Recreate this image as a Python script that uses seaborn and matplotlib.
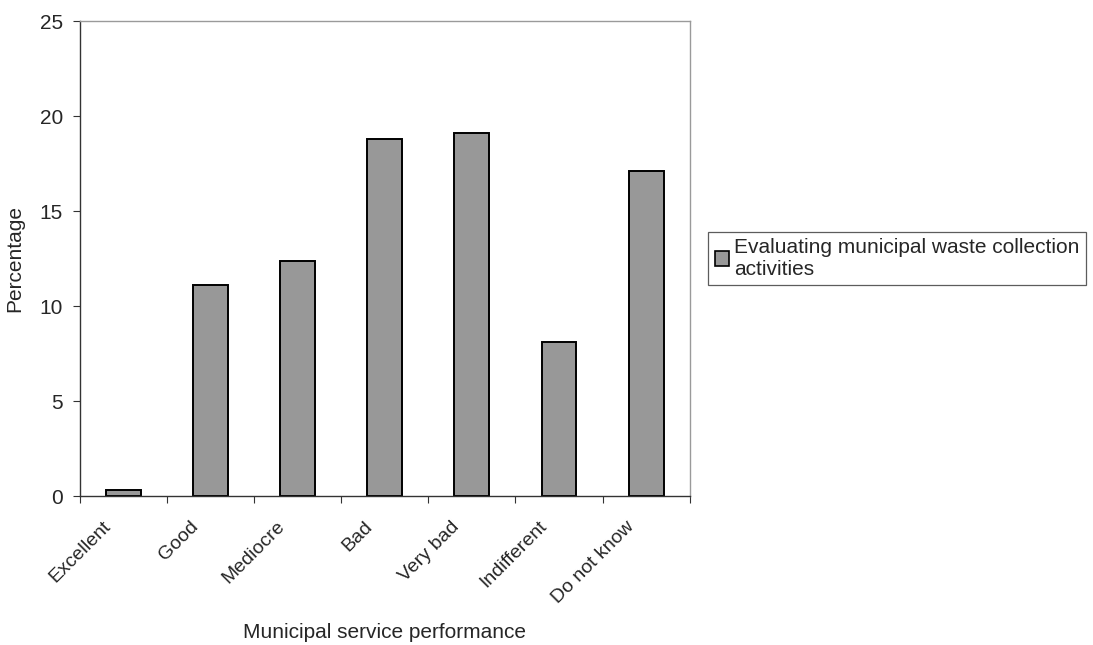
import matplotlib
matplotlib.use("Agg")
import matplotlib.pyplot as plt
import matplotlib.transforms as mtransforms
import seaborn as sns
import pandas as pd
from matplotlib.ticker import FixedLocator

categories = ["Excellent", "Good", "Mediocre", "Bad", "Very bad", "Indifferent", "Do not know"]
percentages = [0.3, 11.1, 12.4, 18.8, 19.1, 8.1, 17.1]
series_name = "Evaluating municipal waste collection\nactivities"
y_ticks = [0, 5, 10, 15, 20, 25]

FS = 15

sns.set_theme(style="white")
plt.rcParams["font.family"] = ["Liberation Sans", "DejaVu Sans"]
plt.rcParams["font.size"] = FS

df = pd.DataFrame({"category": categories, "value": percentages,
                   "series": [series_name] * len(categories)})

fig = plt.figure(figsize=(10.93, 6.45), dpi=100)
ax = fig.add_axes([0.073, 0.231, 0.558, 0.736])

sns.barplot(data=df, x="category", y="value", hue="series", order=categories,
            palette=["#989898"], edgecolor="black", linewidth=1.4,
            width=0.4, dodge=False, legend=False, ax=ax)

ax.set_xlim(-0.5, len(categories) - 0.5)
ax.set_ylim(0, 25)
ax.set_yticks(y_ticks)
ax.set_yticklabels([str(t) for t in y_ticks], fontsize=FS)

# category ticks sit between the bars, labels stay at bar centres
ax.xaxis.set_minor_locator(FixedLocator([i - 0.5 for i in range(len(categories) + 1)]))
ax.tick_params(axis="x", which="major", length=0, pad=0)
ax.tick_params(axis="x", which="minor", bottom=True, length=5, width=0.8, color="#333333", direction="out")
ax.tick_params(axis="y", which="major", left=True, length=5, width=0.8, color="#333333", direction="out", pad=7)
ax.set_xticks(range(len(categories)))
ax.set_xticklabels(categories, rotation=45, ha="right", rotation_mode="anchor", fontsize=14)

# nudge the slanted labels left and down
shift = mtransforms.ScaledTranslation(-0.21, -0.22, fig.dpi_scale_trans)
for lbl in ax.get_xticklabels():
    lbl.set_transform(lbl.get_transform() + shift)

ax.set_xlabel("Municipal service performance", fontsize=FS)
ax.xaxis.set_label_coords(0.5, -0.268)
ax.set_ylabel("Percentage", fontsize=FS, labelpad=11)

for side in ("left", "bottom"):
    ax.spines[side].set_color("#333333")
    ax.spines[side].set_linewidth(1.0)
for side in ("top", "right"):
    ax.spines[side].set_visible(True)
    ax.spines[side].set_color("#9a9a9a")
    ax.spines[side].set_linewidth(1.0)

handles = [plt.Rectangle((0, 0), 1, 1, facecolor="#989898", edgecolor="black", linewidth=1.2)]
leg = fig.legend(handles, [series_name], loc="upper left", bbox_to_anchor=(0.648, 0.641),
                 fancybox=False, frameon=True, fontsize=FS, handlelength=0.7,
                 handleheight=0.7, handletextpad=0.25, borderpad=0.3, borderaxespad=0,
                 labelspacing=0.2)
leg.get_frame().set_edgecolor("#333333")
leg.get_frame().set_linewidth(0.9)

fig.savefig("out.png", dpi=100, facecolor="white")
